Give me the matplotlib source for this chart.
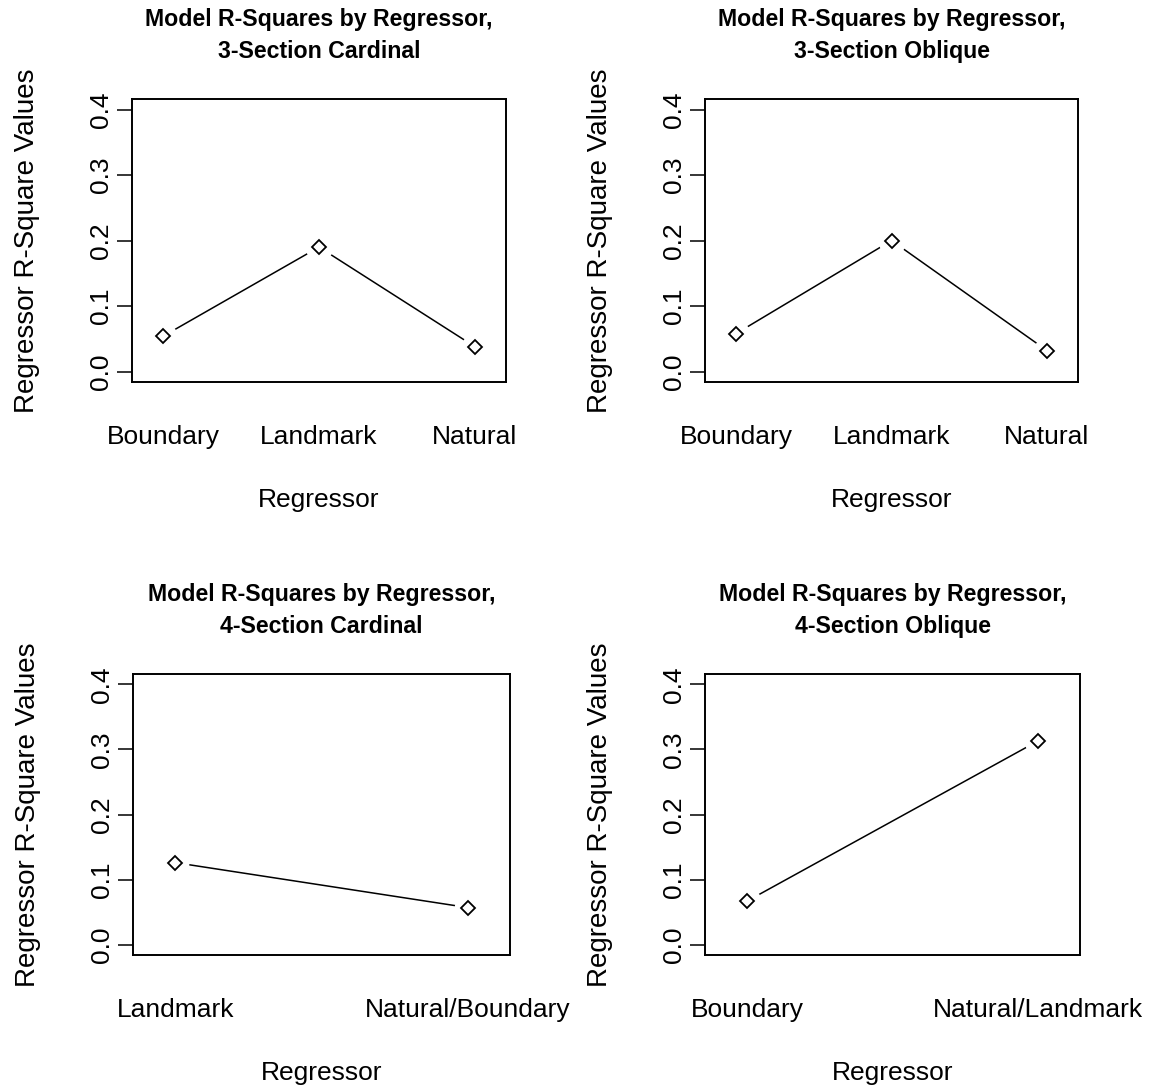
import matplotlib
matplotlib.use("Agg")
from matplotlib import pyplot as plt

plt.rcParams['font.family'] = ['Liberation Sans', 'DejaVu Sans']

# R-square of each regressor, one list per section layout
titles = [
    "Model R-Squares by Regressor,\n3-Section Cardinal",
    "Model R-Squares by Regressor,\n3-Section Oblique",
    "Model R-Squares by Regressor,\n4-Section Cardinal",
    "Model R-Squares by Regressor,\n4-Section Oblique",
]
regressors_3card = ["Boundary", "Landmark", "Natural"]
rsq_3card = [0.054, 0.190, 0.038]
regressors_3obl = ["Boundary", "Landmark", "Natural"]
rsq_3obl = [0.058, 0.200, 0.032]
regressors_4card = ["Landmark", "Natural/Boundary"]
rsq_4card = [0.126, 0.057]
regressors_4obl = ["Boundary", "Natural/Landmark"]
rsq_4obl = [0.067, 0.313]

yticks = [0.0, 0.1, 0.2, 0.3, 0.4]

panels = [
    (regressors_3card, rsq_3card, [0.1142, 0.6479, 0.3235, 0.2608]),
    (regressors_3obl, rsq_3obl, [0.6099, 0.6479, 0.3227, 0.2608]),
    (regressors_4card, rsq_4card, [0.1151, 0.1198, 0.3261, 0.2590]),
    (regressors_4obl, rsq_4obl, [0.6099, 0.1198, 0.3244, 0.2590]),
]

fig = plt.figure(figsize=(11.56, 10.85), dpi=100)

for title, (names, vals, rect) in zip(titles, panels):
    ax = fig.add_axes(rect)
    xs = list(range(1, len(names) + 1))
    # line with gaps around the points, like R's type="b"
    ax.plot(xs, vals, color='black', lw=1.1, zorder=1)
    ax.plot(xs, vals, linestyle='none', marker='o', ms=20,
            mfc='white', mec='none', zorder=2)
    ax.plot(xs, vals, linestyle='none', marker='D', ms=7.5,
            mfc='white', mec='black', mew=1.3, zorder=3)

    pad = 0.2 if len(names) == 3 else 0.145
    ax.set_xlim(1 - pad, len(names) + pad)
    ax.set_ylim(-0.016, 0.416)

    ax.set_xticks(xs)
    ax.set_xticklabels(names, fontsize=19)
    ax.tick_params(axis='x', length=0, pad=31)
    ax.set_yticks(yticks)
    ax.set_yticklabels([f"{t:.1f}" for t in yticks], fontsize=19,
                       rotation=90, va='center')
    ax.tick_params(axis='y', length=11, width=1.1, pad=3)
    for s in ax.spines.values():
        s.set_linewidth(1.4)

    ax.set_xlabel("Regressor", fontsize=19, labelpad=28)
    ax.set_ylabel("Regressor R-Square Values", fontsize=20, labelpad=35)
    ax.set_title(title, fontsize=16.7, fontweight='bold', pad=29.5,
                 linespacing=1.5)

fig.savefig("out.png", dpi=100)
